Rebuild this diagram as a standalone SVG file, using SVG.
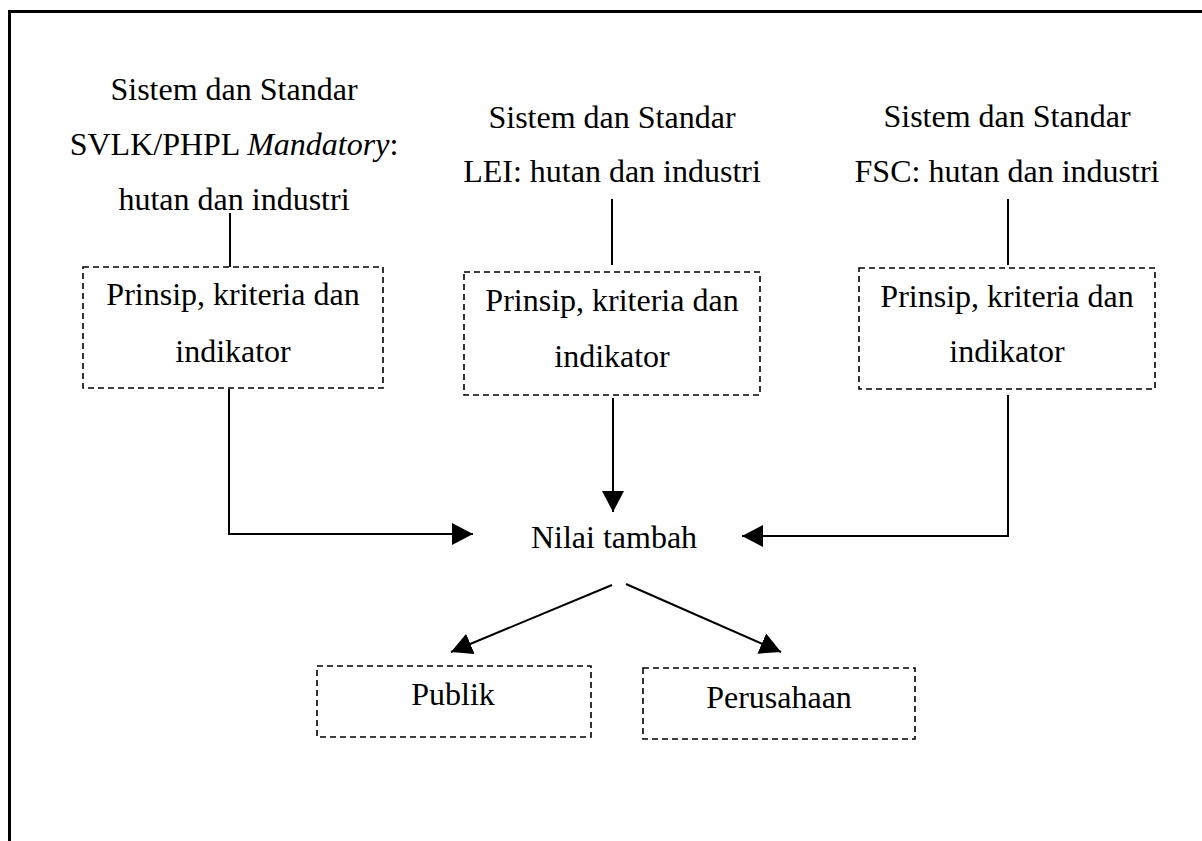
<svg xmlns="http://www.w3.org/2000/svg" width="1202" height="841" viewBox="0 0 1202 841">
<style>
text{font-size:32px;fill:#000;text-anchor:middle}
.box{fill:none;stroke:#000;stroke-width:1.6;stroke-dasharray:6 4}
.ln{fill:none;stroke:#000;stroke-width:2}
</style>
<defs>
<marker id="ah" markerWidth="22" markerHeight="22" refX="21" refY="11" orient="auto" markerUnits="userSpaceOnUse">
<path d="M0,0 L21,11 L0,22 Z" fill="#000"/>
</marker>
</defs>
<rect width="1202" height="841" fill="#fff"/>
<path d="M9.5,841 V11.5 H1202" fill="none" stroke="#000" stroke-width="3"/>
<g id="connectors">
<line class="ln" x1="230" y1="213" x2="230" y2="267"/>
<line class="ln" x1="612" y1="199" x2="612" y2="265"/>
<line class="ln" x1="1008" y1="199" x2="1008" y2="265"/>
<path class="ln" d="M229,389 V534 H473" marker-end="url(#ah)"/>
<line class="ln" x1="613" y1="398" x2="613" y2="512" marker-end="url(#ah)"/>
<path class="ln" d="M1008,395 V536 H742" marker-end="url(#ah)"/>
<line class="ln" x1="612" y1="585" x2="451" y2="652" marker-end="url(#ah)"/>
<line class="ln" x1="626" y1="584" x2="781" y2="652" marker-end="url(#ah)"/>
</g>
<g font-family="'Liberation Serif', 'Times New Roman', 'DejaVu Serif', serif">
<g id="svlk">
<text x="234" y="100">Sistem dan Standar</text>
<text x="234" y="155">SVLK/PHPL <tspan font-style="italic">Mandatory</tspan>:</text>
<text x="234" y="210">hutan dan industri</text>
</g>
<g id="lei">
<text x="612" y="128">Sistem dan Standar</text>
<text x="612" y="182">LEI: hutan dan industri</text>
</g>
<g id="fsc">
<text x="1007" y="127">Sistem dan Standar</text>
<text x="1007" y="182">FSC: hutan dan industri</text>
</g>
<g id="pki1">
<rect class="box" x="83" y="267" width="300" height="121"/>
<text x="233" y="305">Prinsip, kriteria dan</text>
<text x="233" y="362">indikator</text>
</g>
<g id="pki2">
<rect class="box" x="464" y="272" width="296" height="123"/>
<text x="612" y="311">Prinsip, kriteria dan</text>
<text x="612" y="367">indikator</text>
</g>
<g id="pki3">
<rect class="box" x="859" y="268" width="296" height="121"/>
<text x="1007" y="307">Prinsip, kriteria dan</text>
<text x="1007" y="362">indikator</text>
</g>
<g id="nilai">
<text x="614" y="548">Nilai tambah</text>
</g>
<g id="publik">
<rect class="box" x="317" y="666" width="274" height="71"/>
<text x="453" y="705">Publik</text>
</g>
<g id="perusahaan">
<rect class="box" x="643" y="668" width="272" height="71"/>
<text x="779" y="708">Perusahaan</text>
</g>
</g>
</svg>
